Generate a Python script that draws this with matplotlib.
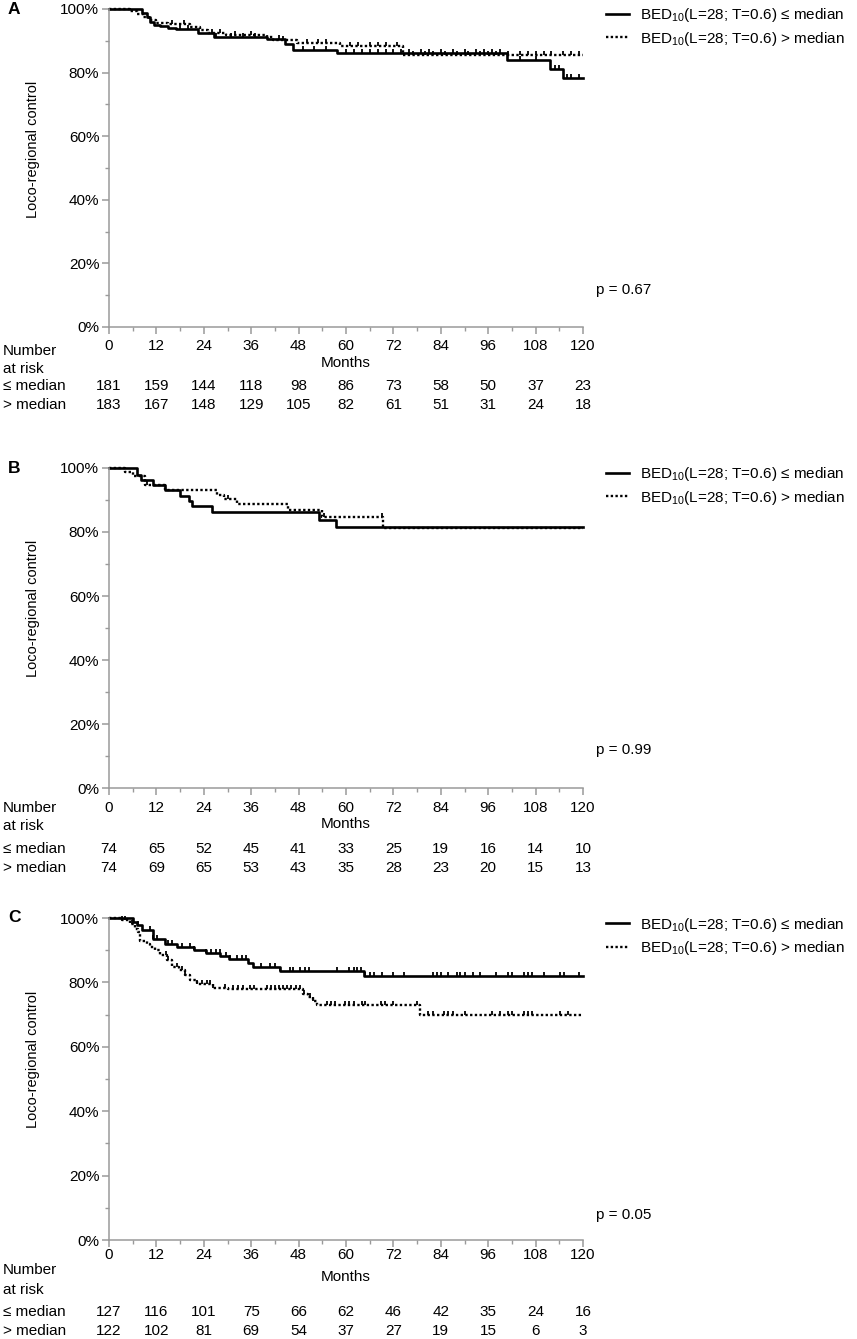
import numpy as np
import matplotlib
matplotlib.use('Agg')
import matplotlib.pyplot as plt
from matplotlib.ticker import MultipleLocator, FuncFormatter
from matplotlib.transforms import blended_transform_factory

plt.rcParams['font.family'] = ['Liberation Sans', 'DejaVu Sans']
plt.rcParams['mathtext.fontset'] = 'custom'
plt.rcParams['mathtext.rm'] = 'Liberation Sans'
plt.rcParams['mathtext.default'] = 'rm'

W, H = 857, 1339

months = [0, 12, 24, 36, 48, 60, 72, 84, 96, 108, 120]
labels = [r'BED$_{10}$(L=28; T=0.6) ≤ median', r'BED$_{10}$(L=28; T=0.6) > median']
p_values = ['p = 0.67', 'p = 0.99', 'p = 0.05']
panel_names = ['A', 'B', 'C']

# panel A
A_le_t = [0, 8.4, 9.5, 10.5, 11.5, 13, 15, 17, 22.5, 26.5, 40, 44.5, 46.5, 57.6, 100.7, 111.6, 114.9, 120]
A_le_s = [100, 98.8, 97.5, 96, 95, 94.5, 94, 93.6, 92.3, 91.1, 90.5, 88.9, 87.1, 86.1, 84, 81.1, 78.4, 78.4]
A_gt_t = [0, 5.3, 7, 8.5, 10, 12, 15, 20.5, 23, 25, 29.5, 40, 41.5, 47.5, 58.5, 74.5, 120]
A_gt_s = [100, 99.5, 98.5, 97.5, 96.5, 95.5, 95.2, 94.2, 93.3, 92.3, 91.8, 91.1, 90.3, 89.4, 88.4, 85.5, 85.5]
A_le_cens = [18, 20, 27, 31, 34, 37, 43, 49, 52, 55, 60, 62, 64, 66, 68, 70, 72, 74, 76, 79, 81, 84,
             87, 90, 93, 95, 97, 99, 104, 108, 113, 114, 116, 117, 119]
A_gt_cens = [16, 19, 26, 28, 32, 36, 44, 50, 53, 55, 61, 63, 66, 68, 70, 73, 77, 80, 82, 85, 88, 91,
             94, 96, 98, 101, 104, 106, 108, 110, 112, 115, 117, 119]
A_le_risk = [181, 159, 144, 118, 98, 86, 73, 58, 50, 37, 23]
A_gt_risk = [183, 167, 148, 129, 105, 82, 61, 51, 31, 24, 18]

# panel B
B_le_t = [0, 7.2, 8, 11.1, 14.2, 18, 20.3, 20.9, 26.2, 53.2, 57.4, 120]
B_le_s = [100, 97.9, 96.4, 94.8, 93.2, 91.4, 89.6, 88, 86.3, 83.9, 81.5, 81.5]
B_gt_t = [0, 4, 6.2, 9.1, 14.2, 27.3, 29, 32.3, 45.4, 53.8, 69.3, 120]
B_gt_s = [100, 98.75, 97.4, 94.8, 93.2, 91.7, 90.3, 88.75, 87, 84.6, 81.25, 81.25]
B_le_cens = []
B_gt_cens = [9.5, 30, 54.5, 69]
B_le_risk = [74, 65, 52, 45, 41, 33, 25, 19, 16, 14, 10]
B_gt_risk = [74, 69, 65, 53, 43, 35, 28, 23, 20, 15, 13]

# panel C
C_le_t = [0, 6.2, 7.2, 8.3, 11.2, 14.2, 17.3, 21.4, 24.6, 28.1, 30.5, 35.3, 36.5, 43.3, 64.6, 120]
C_le_s = [100, 98.8, 97.7, 96.2, 93.6, 92, 91, 90, 89.1, 88.3, 87.2, 86, 84.8, 83.6, 82, 82]
C_gt_t = [0, 3.2, 5.3, 6.6, 7.4, 7.8, 9.5, 10.4, 11.6, 12.9, 14.6, 15.9, 17.6, 19.2, 20.5, 22.2,
          26.4, 30.2, 49.2, 50.5, 51.7, 52.6, 78.7, 120]
C_gt_s = [100, 99.3, 98.2, 96.7, 95.7, 93, 92, 91, 90, 88.4, 86.9, 84.8, 83.8, 82.2, 80.7, 79.6,
          78.4, 77.8, 76.5, 75.5, 74.2, 72.9, 69.8, 69.8]
C_le_cens = [7.3, 10.4, 11.2, 12.2, 15, 15.9, 18.4, 20.5, 21.4, 24.6, 25.7, 27, 28, 29.6, 30.6,
             32.5, 33.6, 34.7, 38.6, 40.8, 42, 43.3, 45.7, 46.7, 48.4, 49.6, 50.7, 57.8, 60.8,
             61.9, 62.9, 63.9, 64.9, 66.1, 67.1, 69, 71.8, 74.7, 81.9, 83, 84, 85.9, 88, 88.9,
             90.1, 92.1, 93.9, 98, 101.1, 102.1, 105.1, 106.2, 107.2, 110, 114.2, 115.2, 119.1]
C_gt_cens = [3.2, 4, 5.7, 14.4, 15, 17.1, 18.4, 19.2, 22.2, 23.5, 24.7, 25.6, 26.4, 29.4, 31.5,
             32.7, 33.8, 35.7, 36.7, 39.9, 40.9, 42, 43.1, 44.1, 45.1, 46.2, 47.3, 48.4, 49.4,
             50.9, 51.7, 55.1, 56.1, 57.2, 59.7, 60.8, 61.9, 64, 64.8, 68.8, 69.9, 71.8, 77.9,
             80.8, 81.9, 84.8, 85.9, 87, 90.1, 96.9, 99, 101.1, 102.1, 105.1, 106.2, 107.2,
             114.2, 116.3]
C_le_risk = [127, 116, 101, 75, 66, 62, 46, 42, 35, 24, 16]
C_gt_risk = [122, 102, 81, 69, 54, 37, 27, 19, 15, 6, 3]

curves = [
    ((A_le_t, A_le_s, A_le_cens), (A_gt_t, A_gt_s, A_gt_cens), A_le_risk, A_gt_risk),
    ((B_le_t, B_le_s, B_le_cens), (B_gt_t, B_gt_s, B_gt_cens), B_le_risk, B_gt_risk),
    ((C_le_t, C_le_s, C_le_cens), (C_gt_t, C_gt_s, C_gt_cens), C_le_risk, C_gt_risk),
]

# pixel layout: axis top, axis bottom, tick pad, months y, number y, at risk y, row1 y, row2 y, p y
layout = [
    dict(top=9, bot=327, pad=4, months=363, number=351, atrisk=369, r1=386, r2=405, p=290),
    dict(top=468, bot=788, pad=4, months=824, number=808, atrisk=826, r1=849, r2=868, p=750),
    dict(top=918, bot=1240, pad=0.5, months=1277, number=1270, atrisk=1290, r1=1312, r2=1331, p=1215),
]

gray = '#9a9a9a'
fs = 11
fig = plt.figure(figsize=(W / 100, H / 100), dpi=100)


def fy(px):
    return 1 - px / H


for i, (c_le, c_gt, r_le, r_gt) in enumerate(curves):
    L = layout[i]
    ax = fig.add_axes([109 / W, fy(L['bot']), 474 / W, (L['bot'] - L['top']) / H])
    styles = [dict(ls='-', lw=1.9), dict(ls=(0, (1, 1)), lw=1.7)]
    for (t, s, cens), st, lab in zip([c_le, c_gt], styles, labels):
        ax.step(t, s, where='post', color='k', label=lab, clip_on=False, **st)
        if cens:
            idx = np.searchsorted(t, cens, side='right') - 1
            cy = np.array(s)[idx]
            ax.plot(cens, cy, ls='none', marker=2, ms=3, mew=1.3, color='k', clip_on=False)

    ax.set_xlim(0, 120)
    ax.set_ylim(0, 100)
    for sp in ['top', 'right']:
        ax.spines[sp].set_visible(False)
    for sp in ['left', 'bottom']:
        ax.spines[sp].set_color(gray)
        ax.spines[sp].set_linewidth(1.1)
    ax.set_xticks(months)
    ax.xaxis.set_minor_locator(MultipleLocator(6))
    ax.yaxis.set_major_locator(MultipleLocator(20))
    ax.yaxis.set_minor_locator(MultipleLocator(10))
    ax.yaxis.set_major_formatter(FuncFormatter(lambda v, pos: '%d%%' % v))
    ax.tick_params(which='major', length=5, width=1.1, color=gray, labelsize=fs)
    ax.tick_params(which='minor', length=3, width=1.0, color=gray)
    ax.tick_params(axis='x', which='major', pad=L['pad'])
    ax.tick_params(axis='y', which='major', pad=2)
    ax.set_ylabel('Loco-regional control', fontsize=10.5)
    ax.yaxis.set_label_coords(-0.1456, 0.56)

    ax.legend(loc='upper left', bbox_to_anchor=((606 - 109) / 474, 1.0 + 2.5 / (L['bot'] - L['top'])),
              frameon=False, fontsize=fs, handlelength=1.5, handletextpad=0.75,
              labelspacing=0.35, borderaxespad=0, borderpad=0)

    fig.text(8 / W, fy(L['top']), panel_names[i], fontsize=12.5, fontweight='bold', va='center')
    fig.text(596 / W, fy(L['p']), p_values[i], fontsize=fs, va='center')
    fig.text(346 / W, fy(L['months']), 'Months', fontsize=fs, ha='center', va='center')
    fig.text(3 / W, fy(L['number']), 'Number', fontsize=fs, va='center')
    fig.text(3 / W, fy(L['atrisk']), 'at risk', fontsize=fs, va='center')
    fig.text(3 / W, fy(L['r1']), '≤ median', fontsize=fs, va='center')
    fig.text(3 / W, fy(L['r2']), '> median', fontsize=fs, va='center')
    tr = blended_transform_factory(ax.transData, fig.transFigure)
    for m, a, b in zip(months, r_le, r_gt):
        ax.text(m, fy(L['r1']), str(a), transform=tr, fontsize=fs, ha='center', va='center')
        ax.text(m, fy(L['r2']), str(b), transform=tr, fontsize=fs, ha='center', va='center')

fig.savefig('out.png', dpi=100)
